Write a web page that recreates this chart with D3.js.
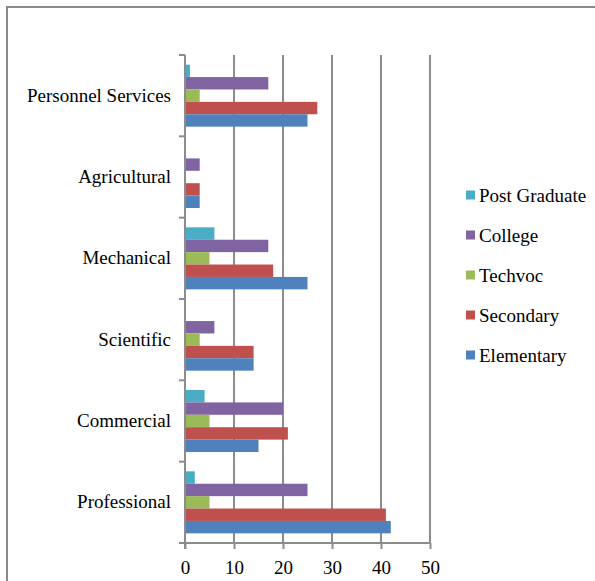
<!DOCTYPE html>
<html>
<head>
<meta charset="utf-8">
<script src="https://cdn.jsdelivr.net/npm/d3@7"></script>
<style>
  html, body { margin: 0; padding: 0; background: #fff; }
  svg { display: block; }
  svg text { font-family: "Liberation Serif", "Times New Roman", serif; fill: #000; }
</style>
</head>
<body>
<script>
// Occupation categories, listed bottom to top along the vertical axis
const categories = ["Professional", "Commercial", "Scientific", "Mechanical", "Agricultural", "Personnel Services"];

// Education levels, in legend order (top to bottom)
const seriesNames = ["Post Graduate", "College", "Techvoc", "Secondary", "Elementary"];
const seriesColors = ["#4BACC6", "#8064A2", "#9BBB59", "#C0504D", "#4F81BD"];

// Counts per education level, aligned with `categories`
const elementary   = [42, 15, 14, 25, 3, 25];
const secondary    = [41, 21, 14, 18, 3, 27];
const techvoc      = [5, 5, 3, 5, 0, 3];
const college      = [25, 20, 6, 17, 3, 17];
const postGraduate = [2, 4, 0, 6, 0, 1];

const seriesValues = [postGraduate, college, techvoc, secondary, elementary];

const xTicks = [0, 10, 20, 30, 40, 50];

const W = 595, H = 581;
const margin = { left: 185, top: 55, right: 165, bottom: 38 };
const serif = '"Liberation Serif", "Times New Roman", serif';
const fontSize = "19px";

const svg = d3.select("body").append("svg")
  .attr("width", W).attr("height", H);

// chart frame
svg.append("rect")
  .attr("x", 7).attr("y", 7)
  .attr("width", W + 20).attr("height", H + 20)
  .attr("fill", "none")
  .attr("stroke", "#8a8a8a")
  .attr("stroke-width", 2);

const x = d3.scaleLinear().domain([0, 50]).range([margin.left, 430]);
const y = d3.scaleBand()
  .domain(categories.slice().reverse())
  .range([margin.top, H - margin.bottom])
  .paddingInner(0).paddingOuter(0);

const inner = d3.scaleBand()
  .domain(seriesNames)
  .range([0, y.bandwidth()])
  .paddingInner(0)
  .paddingOuter(0.78);

const yBottom = H - margin.bottom;

// vertical gridlines
svg.append("g").selectAll("line")
  .data(xTicks.filter(t => t > 0))
  .join("line")
  .attr("x1", d => x(d)).attr("x2", d => x(d))
  .attr("y1", margin.top).attr("y2", yBottom)
  .attr("stroke", "#8c8c8c")
  .attr("stroke-width", 2);

// bars
const rows = [];
categories.forEach((c, ci) => {
  seriesNames.forEach((s, si) => {
    rows.push({ cat: c, series: s, value: seriesValues[si][ci], color: seriesColors[si] });
  });
});

svg.append("g").selectAll("rect")
  .data(rows.filter(d => d.value > 0))
  .join("rect")
  .attr("x", x(0))
  .attr("y", d => y(d.cat) + inner(d.series))
  .attr("width", d => x(d.value) - x(0))
  .attr("height", inner.bandwidth())
  .attr("fill", d => d.color);

// x axis
const xAxis = d3.axisBottom(x).tickValues(xTicks).tickSize(6).tickPadding(12);
const gx = svg.append("g")
  .attr("transform", `translate(0,${yBottom})`)
  .call(xAxis)
  .attr("font-family", serif);
gx.select(".domain").attr("stroke", "#8c8c8c").attr("stroke-width", 2)
  .attr("d", `M${x(0) - 1},0H${x(50) + 1}`);
gx.selectAll(".tick line").attr("stroke", "#8c8c8c").attr("stroke-width", 2);
gx.selectAll(".tick text")
  .style("font-family", serif)
  .style("font-size", fontSize)
  .attr("fill", "#000");

// y axis
const yAxis = d3.axisLeft(y).tickSize(0).tickPadding(14);
const gy = svg.append("g")
  .attr("transform", `translate(${x(0)},0)`)
  .call(yAxis)
  .attr("font-family", serif);
gy.select(".domain").attr("stroke", "#8c8c8c").attr("stroke-width", 2)
  .attr("d", `M0,${margin.top}V${yBottom + 6}`);
gy.selectAll(".tick text")
  .style("font-family", serif)
  .style("font-size", fontSize)
  .attr("fill", "#000");

// category boundary ticks
svg.append("g").selectAll("line")
  .data(categories.map(c => y(c)).concat([yBottom]))
  .join("line")
  .attr("x1", x(0) - 6).attr("x2", x(0))
  .attr("y1", d => d).attr("y2", d => d)
  .attr("stroke", "#8c8c8c")
  .attr("stroke-width", 2);

// legend
const legend = svg.append("g").attr("transform", "translate(466,195)");
const item = legend.selectAll("g")
  .data(seriesNames)
  .join("g")
  .attr("transform", (d, i) => `translate(0,${i * 40})`);
item.append("rect")
  .attr("x", 0).attr("y", -4.5)
  .attr("width", 9).attr("height", 9)
  .attr("fill", (d, i) => seriesColors[i]);
item.append("text")
  .attr("x", 13).attr("y", 0)
  .attr("dy", "0.35em")
  .style("font-family", serif)
  .style("font-size", fontSize)
  .text(d => d);
</script>
</body>
</html>
